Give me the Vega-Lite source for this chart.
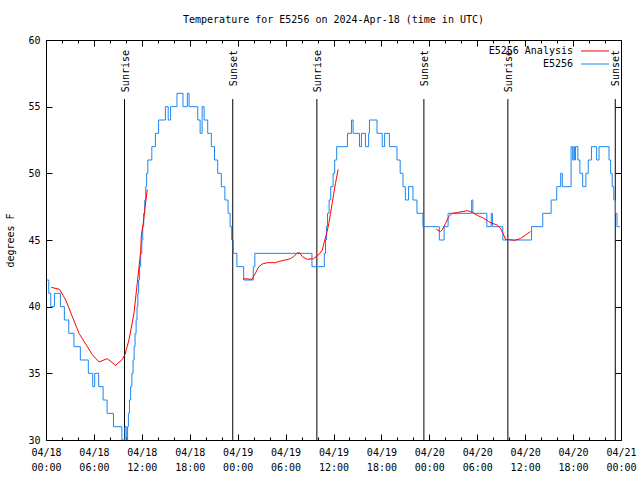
{
  "$schema": "https://vega.github.io/schema/vega-lite/v6.json",
  "width": 575,
  "height": 400,
  "autosize": {"type": "none"},
  "padding": {"left": 46, "top": 40, "right": 19, "bottom": 40},
  "background": "white",
  "title": {"text": "Temperature for E5256 on 2024-Apr-18 (time in UTC)", "font": "DejaVu Sans Mono", "fontSize": 10, "fontWeight": "normal", "color": "black", "anchor": "middle", "offset": 10},
  "config": {
    "view": {"stroke": "black", "strokeWidth": 1},
    "font": "DejaVu Sans Mono",
    "axis": {"labelFont": "DejaVu Sans Mono", "labelFontSize": 10, "labelColor": "black", "tickColor": "black", "domain": false, "grid": false, "titleFont": "DejaVu Sans Mono", "titleFontSize": 10, "titleFontWeight": "normal", "titleColor": "black", "tickWidth": 1}
  },
  "datasets": {
    "obs": [
      {"t":"2024-04-18T00:06Z","v":42,"s":"E5256"},{"t":"2024-04-18T00:21Z","v":41,"s":"E5256"},{"t":"2024-04-18T00:36Z","v":40,"s":"E5256"},{"t":"2024-04-18T01:03Z","v":41,"s":"E5256"},{"t":"2024-04-18T01:48Z","v":40,"s":"E5256"},{"t":"2024-04-18T02:18Z","v":39,"s":"E5256"},{"t":"2024-04-18T02:51Z","v":38,"s":"E5256"},{"t":"2024-04-18T03:30Z","v":37,"s":"E5256"},{"t":"2024-04-18T04:18Z","v":36,"s":"E5256"},{"t":"2024-04-18T05:18Z","v":35,"s":"E5256"},{"t":"2024-04-18T05:51Z","v":34,"s":"E5256"},{"t":"2024-04-18T06:06Z","v":35,"s":"E5256"},{"t":"2024-04-18T06:36Z","v":34,"s":"E5256"},{"t":"2024-04-18T07:09Z","v":33,"s":"E5256"},{"t":"2024-04-18T07:39Z","v":32,"s":"E5256"},{"t":"2024-04-18T08:27Z","v":31,"s":"E5256"},{"t":"2024-04-18T09:30Z","v":30,"s":"E5256"},{"t":"2024-04-18T09:53Z","v":31,"s":"E5256"},{"t":"2024-04-18T10:03Z","v":30,"s":"E5256"},{"t":"2024-04-18T10:13Z","v":31,"s":"E5256"},{"t":"2024-04-18T10:19Z","v":32,"s":"E5256"},{"t":"2024-04-18T10:27Z","v":33,"s":"E5256"},{"t":"2024-04-18T10:36Z","v":34,"s":"E5256"},{"t":"2024-04-18T10:45Z","v":35,"s":"E5256"},{"t":"2024-04-18T10:54Z","v":36,"s":"E5256"},{"t":"2024-04-18T11:02Z","v":37,"s":"E5256"},{"t":"2024-04-18T11:09Z","v":38,"s":"E5256"},{"t":"2024-04-18T11:17Z","v":39,"s":"E5256"},{"t":"2024-04-18T11:24Z","v":40,"s":"E5256"},{"t":"2024-04-18T11:30Z","v":41,"s":"E5256"},{"t":"2024-04-18T11:36Z","v":42,"s":"E5256"},{"t":"2024-04-18T11:43Z","v":43,"s":"E5256"},{"t":"2024-04-18T11:51Z","v":44,"s":"E5256"},{"t":"2024-04-18T12:00Z","v":45,"s":"E5256"},{"t":"2024-04-18T12:07Z","v":46,"s":"E5256"},{"t":"2024-04-18T12:14Z","v":47,"s":"E5256"},{"t":"2024-04-18T12:22Z","v":48,"s":"E5256"},{"t":"2024-04-18T12:29Z","v":49,"s":"E5256"},{"t":"2024-04-18T12:36Z","v":50,"s":"E5256"},{"t":"2024-04-18T12:45Z","v":51,"s":"E5256"},{"t":"2024-04-18T13:15Z","v":52,"s":"E5256"},{"t":"2024-04-18T13:42Z","v":53,"s":"E5256"},{"t":"2024-04-18T14:06Z","v":54,"s":"E5256"},{"t":"2024-04-18T14:57Z","v":55,"s":"E5256"},{"t":"2024-04-18T15:18Z","v":54,"s":"E5256"},{"t":"2024-04-18T15:36Z","v":55,"s":"E5256"},{"t":"2024-04-18T16:24Z","v":56,"s":"E5256"},{"t":"2024-04-18T17:09Z","v":55,"s":"E5256"},{"t":"2024-04-18T17:42Z","v":56,"s":"E5256"},{"t":"2024-04-18T17:55Z","v":55,"s":"E5256"},{"t":"2024-04-18T19:00Z","v":54,"s":"E5256"},{"t":"2024-04-18T19:18Z","v":53,"s":"E5256"},{"t":"2024-04-18T19:33Z","v":55,"s":"E5256"},{"t":"2024-04-18T19:48Z","v":54,"s":"E5256"},{"t":"2024-04-18T20:15Z","v":53,"s":"E5256"},{"t":"2024-04-18T20:42Z","v":52,"s":"E5256"},{"t":"2024-04-18T21:06Z","v":51,"s":"E5256"},{"t":"2024-04-18T21:30Z","v":50,"s":"E5256"},{"t":"2024-04-18T21:57Z","v":49,"s":"E5256"},{"t":"2024-04-18T22:24Z","v":48,"s":"E5256"},{"t":"2024-04-18T22:48Z","v":47,"s":"E5256"},{"t":"2024-04-18T23:03Z","v":46,"s":"E5256"},{"t":"2024-04-18T23:15Z","v":45,"s":"E5256"},{"t":"2024-04-18T23:27Z","v":44,"s":"E5256"},{"t":"2024-04-18T23:54Z","v":43,"s":"E5256"},
      {"t":"2024-04-19T00:45Z","v":42,"s":"E5256"},{"t":"2024-04-19T01:57Z","v":43,"s":"E5256"},{"t":"2024-04-19T02:09Z","v":44,"s":"E5256"},{"t":"2024-04-19T09:18Z","v":43,"s":"E5256"},{"t":"2024-04-19T10:51Z","v":44,"s":"E5256"},{"t":"2024-04-19T11:00Z","v":45,"s":"E5256"},{"t":"2024-04-19T11:07Z","v":46,"s":"E5256"},{"t":"2024-04-19T11:15Z","v":47,"s":"E5256"},{"t":"2024-04-19T11:27Z","v":48,"s":"E5256"},{"t":"2024-04-19T11:39Z","v":49,"s":"E5256"},{"t":"2024-04-19T11:57Z","v":50,"s":"E5256"},{"t":"2024-04-19T12:09Z","v":51,"s":"E5256"},{"t":"2024-04-19T12:24Z","v":52,"s":"E5256"},{"t":"2024-04-19T13:45Z","v":53,"s":"E5256"},{"t":"2024-04-19T14:15Z","v":54,"s":"E5256"},{"t":"2024-04-19T14:27Z","v":53,"s":"E5256"},{"t":"2024-04-19T15:15Z","v":52,"s":"E5256"},{"t":"2024-04-19T15:30Z","v":53,"s":"E5256"},{"t":"2024-04-19T16:00Z","v":52,"s":"E5256"},{"t":"2024-04-19T16:24Z","v":53,"s":"E5256"},{"t":"2024-04-19T16:30Z","v":54,"s":"E5256"},{"t":"2024-04-19T17:27Z","v":53,"s":"E5256"},{"t":"2024-04-19T18:06Z","v":52,"s":"E5256"},{"t":"2024-04-19T18:24Z","v":53,"s":"E5256"},{"t":"2024-04-19T19:00Z","v":52,"s":"E5256"},{"t":"2024-04-19T19:57Z","v":51,"s":"E5256"},{"t":"2024-04-19T20:21Z","v":50,"s":"E5256"},{"t":"2024-04-19T20:42Z","v":49,"s":"E5256"},{"t":"2024-04-19T21:00Z","v":48,"s":"E5256"},{"t":"2024-04-19T21:24Z","v":49,"s":"E5256"},{"t":"2024-04-19T21:57Z","v":48,"s":"E5256"},{"t":"2024-04-19T22:27Z","v":47,"s":"E5256"},{"t":"2024-04-19T23:12Z","v":46,"s":"E5256"},
      {"t":"2024-04-20T01:15Z","v":45,"s":"E5256"},{"t":"2024-04-20T01:51Z","v":46,"s":"E5256"},{"t":"2024-04-20T02:21Z","v":47,"s":"E5256"},{"t":"2024-04-20T05:18Z","v":48,"s":"E5256"},{"t":"2024-04-20T05:27Z","v":47,"s":"E5256"},{"t":"2024-04-20T07:12Z","v":46,"s":"E5256"},{"t":"2024-04-20T07:45Z","v":47,"s":"E5256"},{"t":"2024-04-20T07:54Z","v":46,"s":"E5256"},{"t":"2024-04-20T09:12Z","v":45,"s":"E5256"},{"t":"2024-04-20T12:48Z","v":46,"s":"E5256"},{"t":"2024-04-20T14:12Z","v":47,"s":"E5256"},{"t":"2024-04-20T15:15Z","v":48,"s":"E5256"},{"t":"2024-04-20T15:57Z","v":49,"s":"E5256"},{"t":"2024-04-20T16:27Z","v":50,"s":"E5256"},{"t":"2024-04-20T16:39Z","v":49,"s":"E5256"},{"t":"2024-04-20T17:45Z","v":52,"s":"E5256"},{"t":"2024-04-20T17:57Z","v":51,"s":"E5256"},{"t":"2024-04-20T18:06Z","v":52,"s":"E5256"},{"t":"2024-04-20T18:12Z","v":51,"s":"E5256"},{"t":"2024-04-20T18:18Z","v":52,"s":"E5256"},{"t":"2024-04-20T18:36Z","v":51,"s":"E5256"},{"t":"2024-04-20T18:51Z","v":50,"s":"E5256"},{"t":"2024-04-20T19:12Z","v":49,"s":"E5256"},{"t":"2024-04-20T19:36Z","v":50,"s":"E5256"},{"t":"2024-04-20T19:54Z","v":51,"s":"E5256"},{"t":"2024-04-20T20:18Z","v":52,"s":"E5256"},{"t":"2024-04-20T20:57Z","v":51,"s":"E5256"},{"t":"2024-04-20T21:15Z","v":52,"s":"E5256"},{"t":"2024-04-20T22:30Z","v":51,"s":"E5256"},{"t":"2024-04-20T22:42Z","v":50,"s":"E5256"},{"t":"2024-04-20T22:54Z","v":49,"s":"E5256"},{"t":"2024-04-20T23:06Z","v":48,"s":"E5256"},{"t":"2024-04-20T23:18Z","v":47,"s":"E5256"},{"t":"2024-04-20T23:30Z","v":46,"s":"E5256"},{"t":"2024-04-20T23:51Z","v":46,"s":"E5256"}
    ],
    "ana": [
      {"t":"2024-04-18T00:40Z","v":41.45,"seg":"A","s":"E5256 Analysis"},{"t":"2024-04-18T01:42Z","v":41.3,"seg":"A","s":"E5256 Analysis"},{"t":"2024-04-18T02:28Z","v":40.5,"seg":"A","s":"E5256 Analysis"},{"t":"2024-04-18T03:18Z","v":39.25,"seg":"A","s":"E5256 Analysis"},{"t":"2024-04-18T04:08Z","v":38.0,"seg":"A","s":"E5256 Analysis"},{"t":"2024-04-18T04:58Z","v":37.2,"seg":"A","s":"E5256 Analysis"},{"t":"2024-04-18T05:48Z","v":36.4,"seg":"A","s":"E5256 Analysis"},{"t":"2024-04-18T06:38Z","v":35.85,"seg":"A","s":"E5256 Analysis"},{"t":"2024-04-18T07:40Z","v":36.1,"seg":"A","s":"E5256 Analysis"},{"t":"2024-04-18T08:43Z","v":35.6,"seg":"A","s":"E5256 Analysis"},{"t":"2024-04-18T09:33Z","v":36.05,"seg":"A","s":"E5256 Analysis"},{"t":"2024-04-18T09:53Z","v":36.4,"seg":"A","s":"E5256 Analysis"},{"t":"2024-04-18T10:23Z","v":37.5,"seg":"A","s":"E5256 Analysis"},{"t":"2024-04-18T11:01Z","v":39.5,"seg":"A","s":"E5256 Analysis"},{"t":"2024-04-18T11:26Z","v":41.8,"seg":"A","s":"E5256 Analysis"},{"t":"2024-04-18T11:51Z","v":44.1,"seg":"A","s":"E5256 Analysis"},{"t":"2024-04-18T11:56Z","v":45.3,"seg":"A","s":"E5256 Analysis"},{"t":"2024-04-18T12:06Z","v":46.0,"seg":"A","s":"E5256 Analysis"},{"t":"2024-04-18T12:14Z","v":46.5,"seg":"A","s":"E5256 Analysis"},{"t":"2024-04-18T12:21Z","v":47.2,"seg":"A","s":"E5256 Analysis"},{"t":"2024-04-18T12:41Z","v":48.8,"seg":"A","s":"E5256 Analysis"},
      {"t":"2024-04-19T00:42Z","v":42.1,"seg":"B","s":"E5256 Analysis"},{"t":"2024-04-19T01:48Z","v":42.05,"seg":"B","s":"E5256 Analysis"},{"t":"2024-04-19T02:18Z","v":42.6,"seg":"B","s":"E5256 Analysis"},{"t":"2024-04-19T02:39Z","v":43.0,"seg":"B","s":"E5256 Analysis"},{"t":"2024-04-19T03:06Z","v":43.2,"seg":"B","s":"E5256 Analysis"},{"t":"2024-04-19T03:42Z","v":43.3,"seg":"B","s":"E5256 Analysis"},{"t":"2024-04-19T04:45Z","v":43.3,"seg":"B","s":"E5256 Analysis"},{"t":"2024-04-19T05:12Z","v":43.4,"seg":"B","s":"E5256 Analysis"},{"t":"2024-04-19T06:00Z","v":43.5,"seg":"B","s":"E5256 Analysis"},{"t":"2024-04-19T06:36Z","v":43.6,"seg":"B","s":"E5256 Analysis"},{"t":"2024-04-19T07:00Z","v":43.75,"seg":"B","s":"E5256 Analysis"},{"t":"2024-04-19T07:24Z","v":44.0,"seg":"B","s":"E5256 Analysis"},{"t":"2024-04-19T07:45Z","v":44.05,"seg":"B","s":"E5256 Analysis"},{"t":"2024-04-19T08:06Z","v":43.75,"seg":"B","s":"E5256 Analysis"},{"t":"2024-04-19T08:42Z","v":43.55,"seg":"B","s":"E5256 Analysis"},{"t":"2024-04-19T09:30Z","v":43.6,"seg":"B","s":"E5256 Analysis"},{"t":"2024-04-19T09:54Z","v":43.8,"seg":"B","s":"E5256 Analysis"},{"t":"2024-04-19T10:18Z","v":44.0,"seg":"B","s":"E5256 Analysis"},{"t":"2024-04-19T10:36Z","v":44.25,"seg":"B","s":"E5256 Analysis"},{"t":"2024-04-19T10:48Z","v":44.75,"seg":"B","s":"E5256 Analysis"},{"t":"2024-04-19T11:12Z","v":45.63,"seg":"B","s":"E5256 Analysis"},{"t":"2024-04-19T11:25Z","v":46.25,"seg":"B","s":"E5256 Analysis"},{"t":"2024-04-19T11:38Z","v":47.0,"seg":"B","s":"E5256 Analysis"},{"t":"2024-04-19T11:50Z","v":47.75,"seg":"B","s":"E5256 Analysis"},{"t":"2024-04-19T12:02Z","v":48.5,"seg":"B","s":"E5256 Analysis"},{"t":"2024-04-19T12:15Z","v":49.25,"seg":"B","s":"E5256 Analysis"},{"t":"2024-04-19T12:35Z","v":50.3,"seg":"B","s":"E5256 Analysis"},
      {"t":"2024-04-20T00:54Z","v":45.85,"seg":"C","s":"E5256 Analysis"},{"t":"2024-04-20T01:00Z","v":45.75,"seg":"C","s":"E5256 Analysis"},{"t":"2024-04-20T01:24Z","v":45.63,"seg":"C","s":"E5256 Analysis"},{"t":"2024-04-20T01:36Z","v":45.75,"seg":"C","s":"E5256 Analysis"},{"t":"2024-04-20T02:02Z","v":46.25,"seg":"C","s":"E5256 Analysis"},{"t":"2024-04-20T02:26Z","v":46.75,"seg":"C","s":"E5256 Analysis"},{"t":"2024-04-20T02:52Z","v":47.0,"seg":"C","s":"E5256 Analysis"},{"t":"2024-04-20T03:29Z","v":47.05,"seg":"C","s":"E5256 Analysis"},{"t":"2024-04-20T04:06Z","v":47.13,"seg":"C","s":"E5256 Analysis"},{"t":"2024-04-20T04:44Z","v":47.2,"seg":"C","s":"E5256 Analysis"},{"t":"2024-04-20T05:09Z","v":47.13,"seg":"C","s":"E5256 Analysis"},{"t":"2024-04-20T05:34Z","v":47.0,"seg":"C","s":"E5256 Analysis"},{"t":"2024-04-20T06:11Z","v":46.8,"seg":"C","s":"E5256 Analysis"},{"t":"2024-04-20T06:49Z","v":46.63,"seg":"C","s":"E5256 Analysis"},{"t":"2024-04-20T07:26Z","v":46.38,"seg":"C","s":"E5256 Analysis"},{"t":"2024-04-20T07:52Z","v":46.25,"seg":"C","s":"E5256 Analysis"},{"t":"2024-04-20T08:29Z","v":46.13,"seg":"C","s":"E5256 Analysis"},{"t":"2024-04-20T08:55Z","v":45.88,"seg":"C","s":"E5256 Analysis"},{"t":"2024-04-20T09:19Z","v":45.38,"seg":"C","s":"E5256 Analysis"},{"t":"2024-04-20T09:32Z","v":45.05,"seg":"C","s":"E5256 Analysis"},{"t":"2024-04-20T10:42Z","v":44.98,"seg":"C","s":"E5256 Analysis"},{"t":"2024-04-20T11:24Z","v":45.1,"seg":"C","s":"E5256 Analysis"},{"t":"2024-04-20T12:00Z","v":45.35,"seg":"C","s":"E5256 Analysis"},{"t":"2024-04-20T12:40Z","v":45.63,"seg":"C","s":"E5256 Analysis"}
    ],
    "sun": [
      {"t":"2024-04-18T09:50Z","ev":"Sunrise"},{"t":"2024-04-18T23:23Z","ev":"Sunset"},
      {"t":"2024-04-19T09:55Z","ev":"Sunrise"},{"t":"2024-04-19T23:19Z","ev":"Sunset"},
      {"t":"2024-04-20T09:50Z","ev":"Sunrise"},{"t":"2024-04-20T23:17Z","ev":"Sunset"}
    ]
  },
  "resolve": {"axis": {"x": "independent", "y": "independent"}},
  "layer": [
    {
      "data": {"name": "sun"},
      "mark": {"type": "rule", "color": "black", "strokeWidth": 1},
      "encoding": {
        "x": {"field": "t", "type": "temporal", "scale": {"type": "utc", "domain": [{"year": 2024, "month": "Apr", "date": 18, "utc": true}, {"year": 2024, "month": "Apr", "date": 21, "utc": true}]},
              "axis": {"orient": "bottom", "values": [1713405600000,1713412800000,1713427200000,1713434400000,1713448800000,1713456000000,1713470400000,1713477600000,1713492000000,1713499200000,1713513600000,1713520800000,1713535200000,1713542400000,1713556800000,1713564000000,1713578400000,1713585600000,1713600000000,1713607200000,1713621600000,1713628800000,1713643200000,1713650400000], "tickSize": -3, "labels": false, "title": null}},
        "y": {"datum": 55.57, "type": "quantitative", "axis": null},
        "y2": {"datum": 30}
      }
    },
    {
      "data": {"name": "sun"},
      "transform": [{"filter": "datum.ev == 'Sunrise'"}],
      "mark": {"type": "text", "angle": 270, "align": "right", "baseline": "middle", "dx": -10, "dy": 1, "font": "DejaVu Sans Mono", "fontSize": 10, "color": "black"},
      "encoding": {
        "x": {"field": "t", "type": "temporal", "axis": {"orient": "top", "values": [1713405600000,1713412800000,1713427200000,1713434400000,1713448800000,1713456000000,1713470400000,1713477600000,1713492000000,1713499200000,1713513600000,1713520800000,1713535200000,1713542400000,1713556800000,1713564000000,1713578400000,1713585600000,1713600000000,1713607200000,1713621600000,1713628800000,1713643200000,1713650400000], "tickSize": -3, "labels": false, "title": null}},
        "y": {"datum": 60, "type": "quantitative", "axis": null},
        "text": {"field": "ev"}
      }
    },
    {
      "data": {"name": "sun"},
      "transform": [{"filter": "datum.ev == 'Sunset'"}],
      "mark": {"type": "text", "angle": 270, "align": "right", "baseline": "middle", "dx": -10, "dy": 1, "font": "DejaVu Sans Mono", "fontSize": 10, "color": "black"},
      "encoding": {
        "x": {"field": "t", "type": "temporal", "axis": {"orient": "top", "values": [1713398400000,1713420000000,1713441600000,1713463200000,1713484800000,1713506400000,1713528000000,1713549600000,1713571200000,1713592800000,1713614400000,1713636000000,1713657600000], "tickSize": -6, "labels": false, "title": null}},
        "y": {"datum": 60, "type": "quantitative", "axis": null},
        "text": {"field": "ev"}
      }
    },
    {
      "data": {"name": "obs"},
      "mark": {"type": "line", "interpolate": "step-after", "strokeWidth": 1, "clip": true},
      "encoding": {
        "x": {"field": "t", "type": "temporal",
              "axis": {"orient": "bottom", "values": [1713398400000,1713420000000,1713441600000,1713463200000,1713484800000,1713506400000,1713528000000,1713549600000,1713571200000,1713592800000,1713614400000,1713636000000,1713657600000], "tickSize": -6, "labelPadding": 18, "labelExpr": "utcFormat(datum.value, '%m/%d')", "labelFlush": false, "labelOverlap": false, "labelBaseline": "middle", "title": null}},
        "y": {"field": "v", "type": "quantitative", "scale": {"domain": [30, 60], "nice": false, "zero": false},
              "axis": {"orient": "left", "values": [30, 35, 40, 45, 50, 55, 60], "tickSize": -6, "labelPadding": 12, "title": "degrees F", "titlePadding": 12}},
        "color": {"field": "s", "type": "nominal", "scale": {"domain": ["E5256 Analysis", "E5256"], "range": ["#ff0000", "#1a86f2"]},
                  "legend": {"orient": "none", "legendX": 544, "legendY": 6, "title": null, "symbolType": "M-5,0H5", "symbolSize": 31.36, "symbolStrokeWidth": 1, "labelAlign": "right", "labelOffset": -27, "labelFont": "DejaVu Sans Mono", "labelFontSize": 10, "labelColor": "black", "rowPadding": 3, "padding": 0}}
      }
    },
    {
      "data": {"name": "ana"},
      "mark": {"type": "line", "strokeWidth": 1, "clip": true},
      "encoding": {
        "x": {"field": "t", "type": "temporal", "axis": {"orient": "bottom", "values": [1713398400000,1713420000000,1713441600000,1713463200000,1713484800000,1713506400000,1713528000000,1713549600000,1713571200000,1713592800000,1713614400000,1713636000000,1713657600000], "ticks": false, "labelPadding": 27, "labelExpr": "utcFormat(datum.value, '%H:%M')", "labelFlush": false, "labelOverlap": false, "labelBaseline": "middle", "title": null}},
        "y": {"field": "v", "type": "quantitative", "axis": {"orient": "right", "values": [30, 35, 40, 45, 50, 55, 60], "tickSize": -6, "labels": false, "title": null}},
        "color": {"field": "s", "type": "nominal"},
        "detail": {"field": "seg"}
      }
    }
  ]
}
